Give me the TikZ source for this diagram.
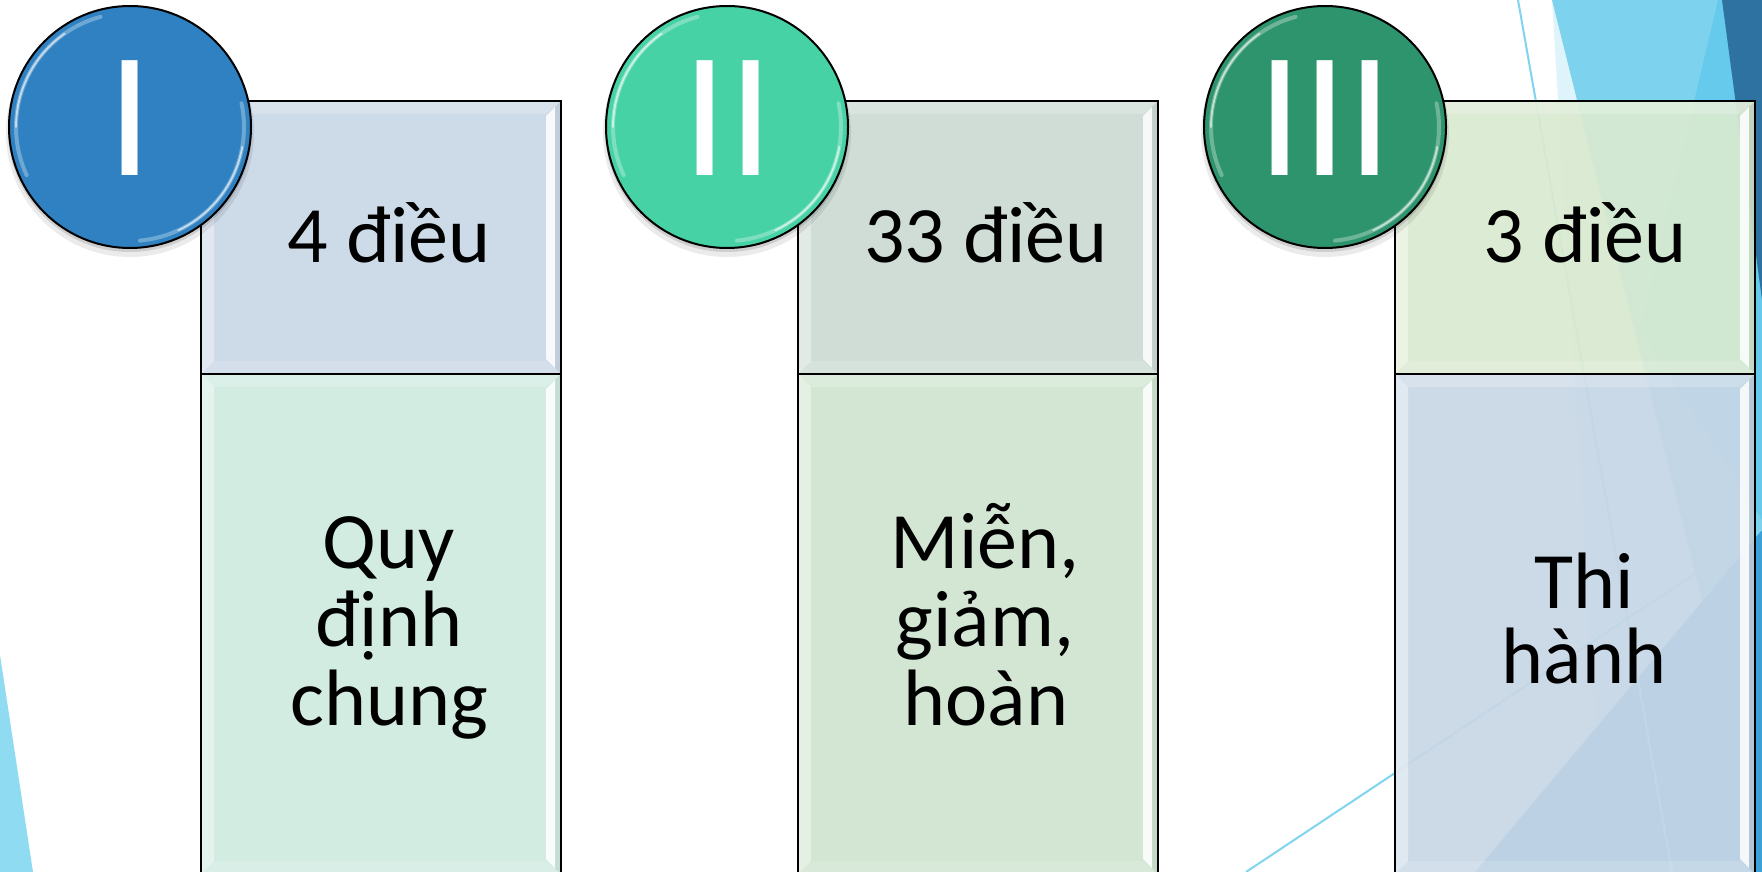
\documentclass[tikz,border=0pt]{standalone}
\usepackage{fontspec}
\setmainfont{Carlito}
\usetikzlibrary{calc}
\definecolor{cI}{HTML}{2F81C1}
\definecolor{cII}{HTML}{46D2A5}
\definecolor{cIII}{HTML}{2E946E}
\definecolor{pAt}{HTML}{CDDAE8}
\definecolor{pAb}{HTML}{D2ECE2}
\definecolor{pBt}{HTML}{CFDDD6}
\definecolor{pBb}{HTML}{D2E6D3}
\definecolor{pCt}{HTML}{DAEAD0}
\definecolor{pCb}{HTML}{C8D7E6}
\definecolor{bgLight}{HTML}{7DD3EE}
\definecolor{bgPale}{HTML}{DFF3FA}
\definecolor{bgMid}{HTML}{66CAEC}
\definecolor{bgNavy}{HTML}{2E72A2}
\definecolor{bgMed}{HTML}{3AA2D8}
\definecolor{bgLeft}{HTML}{8FDCF2}
\definecolor{bgLine}{HTML}{7FD4F0}

\newcommand\bevelit[1]{%
  \fill[white,opacity=0.4] (#1.north west) -- ($(#1.north west)+(13,13)$) -- ($(#1.south west)+(13,-13)$) -- (#1.south west) -- cycle;
  \fill[white,opacity=0.22] (#1.north west) -- (#1.north east) -- ($(#1.north east)+(-15,13)$) -- ($(#1.north west)+(13,13)$) -- cycle;
  \fill[white,opacity=0.15] (#1.south west) -- (#1.south east) -- ($(#1.south east)+(-15,-13)$) -- ($(#1.south west)+(13,-13)$) -- cycle;
  \fill[white,opacity=0.85] ($(#1.north east)+(-6,6)$) -- ($(#1.north east)+(-15,15)$) -- ($(#1.south east)+(-15,-15)$) -- ($(#1.south east)+(-6,-6)$) -- cycle;
  \fill[black,opacity=0.06] (#1.north east) -- ($(#1.north east)+(-6,6)$) -- ($(#1.south east)+(-6,-6)$) -- (#1.south east) -- cycle;
  \draw[line width=1pt] (#1.north west) rectangle (#1.south east);
}

\newcommand\glossit[1]{%
  \draw[white,opacity=0.3,line width=2pt,line cap=round] ([shift={(105:57pt)}]#1.center) arc[start angle=105,end angle=205,radius=57pt];
  \draw[white,opacity=0.6,line width=0.9pt,line cap=round] ([shift={(125:57pt)}]#1.center) arc[start angle=125,end angle=180,radius=57pt];
  \draw[white,opacity=0.3,line width=2pt,line cap=round] ([shift={(-85:57pt)}]#1.center) arc[start angle=-85,end angle=12,radius=57pt];
  \draw[white,opacity=0.6,line width=0.9pt,line cap=round] ([shift={(-65:57pt)}]#1.center) arc[start angle=-65,end angle=-10,radius=57pt];
}

\begin{document}
\begin{tikzpicture}[x=0.5pt,y=-0.5pt,
  panel/.style={rectangle,inner sep=0pt,outer sep=0pt,minimum width=180pt},
  paneltop/.style={panel,minimum height=136.5pt},
  panelbot/.style={panel,minimum height=250pt},
  disc/.style={circle,inner sep=0pt,outer sep=0pt,minimum size=121pt,draw=black,line width=1pt},
  numeral/.style={text=white,font=\fontsize{89.5pt}{90pt}\selectfont,anchor=base,inner sep=0pt},
  lbl/.style={text=black,font=\fontsize{40pt}{39pt}\selectfont,anchor=base,inner sep=0pt}
]
\useasboundingbox (0,0) rectangle (1762,872);
\fill[white] (0,0) rectangle (1762,872);

% background decoration
\fill[bgLeft] (0,655) -- (33,872) -- (0,872) -- cycle;
\fill[bgPale] (1552,0) -- (1762,0) -- (1762,872) -- (1605,872) -- cycle;
\fill[bgLight] (1552,0) -- (1762,0) -- (1762,840) -- cycle;
\fill[bgMid] (1718,0) -- (1762,0) -- (1762,520) -- (1640,330) -- cycle;
\fill[bgNavy] (1722,0) -- (1762,0) -- (1762,300) -- cycle;
\fill[bgMed] (1475,872) -- (1762,530) -- (1762,872) -- cycle;
\draw[bgLine,line width=1pt] (1518,0) -- (1672,872);
\draw[bgLine,line width=1pt] (1246,872) -- (1762,529);

% panels
\node[paneltop,fill=pAt] (b1t) at (381,237.5) {};
\node[panelbot,fill=pAb] (b1b) at (381,624) {};
\node[paneltop,fill=pBt] (b2t) at (978,237.5) {};
\node[panelbot,fill=pBb] (b2b) at (978,624) {};
\node[paneltop,fill=pCt,fill opacity=0.92] (b3t) at (1575,237.5) {};
\node[panelbot,fill=pCb,fill opacity=0.92] (b3b) at (1575,624) {};
\bevelit{b1t}\bevelit{b1b}
\bevelit{b2t}\bevelit{b2b}
\bevelit{b3t}\bevelit{b3b}

% circle shadows
\foreach \cx in {130,727,1325}{
  \fill[black,opacity=0.08] (\cx,133) circle[radius=62pt];
  \fill[black,opacity=0.12] (\cx,130) circle[radius=61pt];
}

% circles
\node[disc,fill=cI] (c1) at (130,127) {};
\node[disc,fill=cII] (c2) at (727,127) {};
\node[disc,fill=cIII] (c3) at (1325,127) {};
\glossit{c1}\glossit{c2}\glossit{c3}

\node[numeral] (n1) at (130,176) {I};
\node[numeral] (n2) at (728,176) {II};
\node[numeral] (n3) at (1325,176) {III};

% texts
\node[lbl] (t1) at (389,262) {4 điều};
\node[lbl] (t1a) at (389,568) {Quy};
\node[lbl] (t1b) at (389,646) {định};
\node[lbl] (t1c) at (389,725) {chung};

\node[lbl] (t2) at (986,262) {33 điều};
\node[lbl] (t2a) at (985,568) {Miễn,};
\node[lbl] (t2b) at (985,646) {giảm,};
\node[lbl] (t2c) at (986,725) {hoàn};

\node[lbl] (t3) at (1585,262) {3 điều};
\node[lbl] (t3a) at (1584,608) {Thi};
\node[lbl] (t3b) at (1584,683) {hành};
\end{tikzpicture}
\end{document}
